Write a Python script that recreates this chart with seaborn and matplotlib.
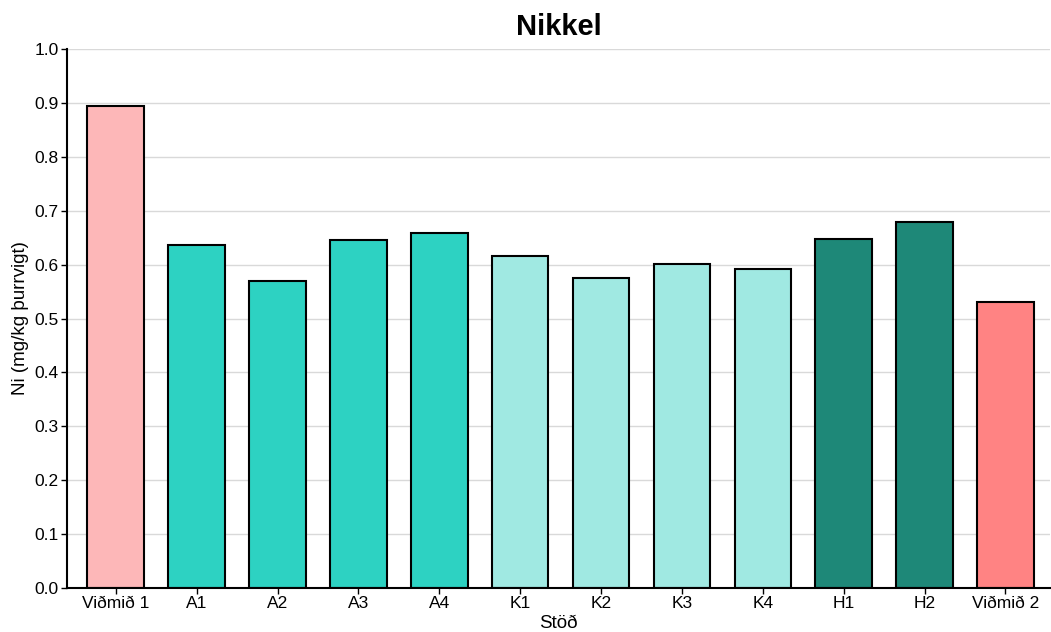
import pandas as pd
import seaborn as sns
import matplotlib
matplotlib.use('Agg')
import matplotlib.pyplot as plt

# Data
stations = ['Viðmið 1', 'A1', 'A2', 'A3', 'A4', 'K1', 'K2', 'K3', 'K4', 'H1', 'H2', 'Viðmið 2']
ni_values = [0.895, 0.637, 0.570, 0.645, 0.659, 0.617, 0.576, 0.602, 0.592, 0.647, 0.680, 0.531]
bar_colors = ['#FDB7B8', '#2DD2C2', '#2DD2C2', '#2DD2C2', '#2DD2C2',
              '#A0E9E2', '#A0E9E2', '#A0E9E2', '#A0E9E2',
              '#1E8878', '#1E8878', '#FF8383']

data = pd.DataFrame({'Stöð': stations, 'Ni': ni_values})

sns.set_style('white')
plt.rcParams['font.family'] = ['Liberation Sans', 'DejaVu Sans']

fig = plt.figure(figsize=(10.51, 6.32), dpi=100)
ax = fig.add_axes([0.064, 0.07, 0.935, 0.852])

sns.barplot(data=data, x='Stöð', y='Ni', hue='Stöð', palette=bar_colors, saturation=1,
            legend=False, width=0.7, edgecolor='black', linewidth=1.5, ax=ax)

ax.set_ylim(0, 1.0)
ax.set_xlim(-0.6, 11.55)
ax.set_yticks([i / 10 for i in range(11)])
ax.set_yticklabels([f'{i / 10:.1f}' for i in range(11)])
ax.yaxis.grid(True, color='#d9d9d9', linewidth=1)
ax.set_axisbelow(True)

for s in ['top', 'right']:
    ax.spines[s].set_visible(False)
for s in ['left', 'bottom']:
    ax.spines[s].set_color('black')
    ax.spines[s].set_linewidth(1.5)

ax.tick_params(axis='both', labelsize=12.5, colors='black', length=4, width=1, direction='out',
               bottom=True, left=True, pad=2)
ax.set_xlabel('Stöð', fontsize=13.5, labelpad=3, color='black')
ax.set_ylabel('Ni (mg/kg þurrvigt)', fontsize=13.5, labelpad=4, color='black')
ax.set_title('Nikkel', fontsize=21, fontweight='bold', pad=10, color='black')

fig.savefig('out.png', dpi=100)
